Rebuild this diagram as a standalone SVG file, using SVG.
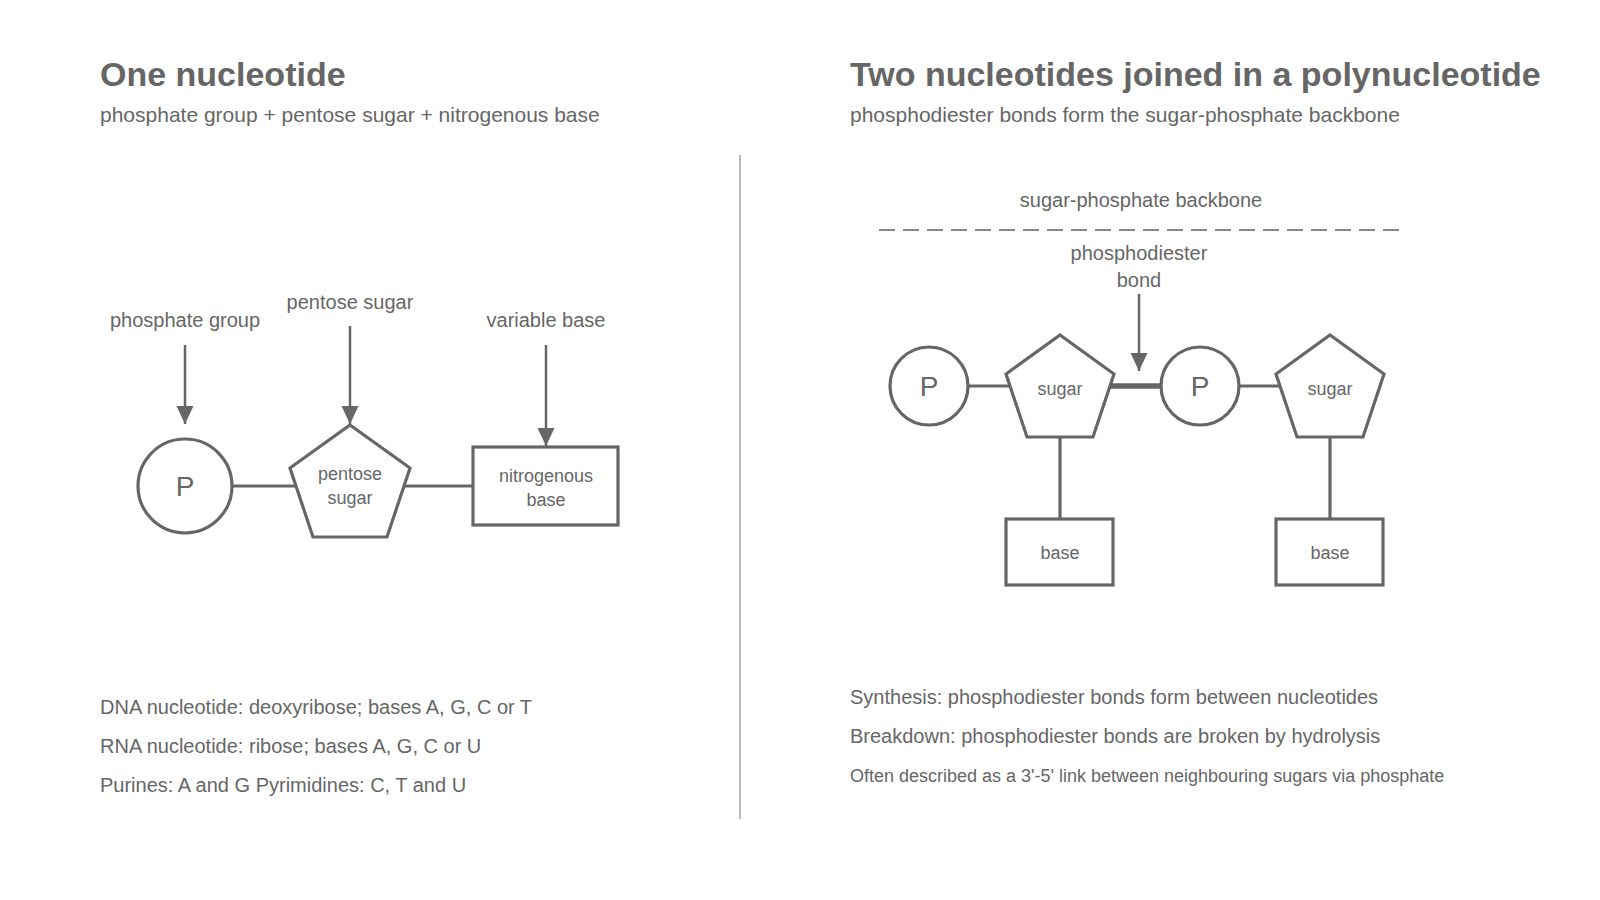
<svg xmlns="http://www.w3.org/2000/svg" width="1600" height="900" viewBox="0 0 1600 900">
<defs>
<style>
text{font-family:"Liberation Sans",Arial,sans-serif;fill:#666}
.title{font-size:34px;font-weight:bold}
.sub{font-size:21px}
.lbl{font-size:20px}
.node{font-size:18px}
.small{font-size:18px}
.big{font-size:28px}
.shape{fill:#fff;stroke:#666;stroke-width:3.2}
.link{stroke:#666;stroke-width:3.2;fill:none}
.bond{stroke:#666;stroke-width:5.5;fill:none}
.arrow{stroke:#666;stroke-width:2.5;fill:none;marker-end:url(#ah)}
</style>
<marker id="ah" markerUnits="userSpaceOnUse" markerWidth="20" markerHeight="20" refX="18" refY="8.5" orient="auto">
<path d="M0,0 L18,8.5 L0,17 Z" fill="#666"/>
</marker>
</defs>
<rect width="1600" height="900" fill="#fff"/>

<text class="title" x="100" y="86">One nucleotide</text>
<text class="sub" x="100" y="122">phosphate group + pentose sugar + nitrogenous base</text>
<text class="title" x="850" y="86">Two nucleotides joined in a polynucleotide</text>
<text class="sub" x="850" y="122">phosphodiester bonds form the sugar-phosphate backbone</text>

<line x1="740" y1="155" x2="740" y2="819" stroke="#bbb" stroke-width="2"/>

<g id="connectors">
<line class="link" x1="232" y1="486" x2="295" y2="486"/>
<line class="link" x1="405" y1="486" x2="473" y2="486"/>
<line class="arrow" x1="185" y1="345" x2="185" y2="424"/>
<line class="arrow" x1="350" y1="326" x2="350" y2="424"/>
<line class="arrow" x1="546" y1="345" x2="546" y2="446"/>
<line class="link" x1="968" y1="386" x2="1010" y2="386"/>
<line class="bond" x1="1110" y1="386" x2="1161" y2="386"/>
<line class="link" x1="1239" y1="386" x2="1280" y2="386"/>
<line class="link" x1="1060" y1="437" x2="1060" y2="519"/>
<line class="link" x1="1330" y1="437" x2="1330" y2="519"/>
<line class="arrow" x1="1139" y1="294" x2="1139" y2="371"/>
<line x1="879" y1="230" x2="1399" y2="230" stroke="#888" stroke-width="2.2" stroke-dasharray="16 8"/>
</g>

<g id="label-phosphate"><text class="lbl" x="185" y="327" text-anchor="middle">phosphate group</text></g>
<g id="label-pentose"><text class="lbl" x="350" y="309" text-anchor="middle">pentose sugar</text></g>
<g id="label-variable"><text class="lbl" x="546" y="327" text-anchor="middle">variable base</text></g>

<g id="node-P">
<circle class="shape" cx="185" cy="486" r="47"/>
<text class="big" x="185" y="496" text-anchor="middle">P</text>
</g>
<g id="node-pentose">
<polygon class="shape" points="350,425 410,468 387,537 313,537 290,468"/>
<text class="node" x="350" y="480" text-anchor="middle">pentose</text>
<text class="node" x="350" y="504" text-anchor="middle">sugar</text>
</g>
<g id="node-base">
<rect class="shape" x="473" y="447" width="145" height="78"/>
<text class="node" x="546" y="482" text-anchor="middle">nitrogenous</text>
<text class="node" x="546" y="506" text-anchor="middle">base</text>
</g>

<g id="notes-left">
<text class="lbl" x="100" y="714">DNA nucleotide: deoxyribose; bases A, G, C or T</text>
<text class="lbl" x="100" y="753">RNA nucleotide: ribose; bases A, G, C or U</text>
<text class="lbl" x="100" y="792">Purines: A and G Pyrimidines: C, T and U</text>
</g>

<g id="label-backbone"><text class="lbl" x="1141" y="207" text-anchor="middle">sugar-phosphate backbone</text></g>
<g id="label-bond">
<text class="lbl" x="1139" y="260" text-anchor="middle">phosphodiester</text>
<text class="lbl" x="1139" y="287" text-anchor="middle">bond</text>
</g>

<g id="node-P1">
<circle class="shape" cx="929" cy="386" r="39"/>
<text class="big" x="929" y="396" text-anchor="middle">P</text>
</g>
<g id="node-sugar1">
<polygon class="shape" points="1060,335 1114,374 1093,437 1027,437 1006,374"/>
<text class="node" x="1060" y="395" text-anchor="middle">sugar</text>
</g>
<g id="node-P2">
<circle class="shape" cx="1200" cy="386" r="39"/>
<text class="big" x="1200" y="396" text-anchor="middle">P</text>
</g>
<g id="node-sugar2">
<polygon class="shape" points="1330,335 1384,374 1363,437 1297,437 1276,374"/>
<text class="node" x="1330" y="395" text-anchor="middle">sugar</text>
</g>
<g id="node-base1">
<rect class="shape" x="1006" y="519" width="107" height="66"/>
<text class="node" x="1060" y="559" text-anchor="middle">base</text>
</g>
<g id="node-base2">
<rect class="shape" x="1276" y="519" width="107" height="66"/>
<text class="node" x="1330" y="559" text-anchor="middle">base</text>
</g>

<g id="notes-right">
<text class="lbl" x="850" y="704">Synthesis: phosphodiester bonds form between nucleotides</text>
<text class="lbl" x="850" y="743">Breakdown: phosphodiester bonds are broken by hydrolysis</text>
<text class="small" x="850" y="782">Often described as a 3'-5' link between neighbouring sugars via phosphate</text>
</g>
</svg>
